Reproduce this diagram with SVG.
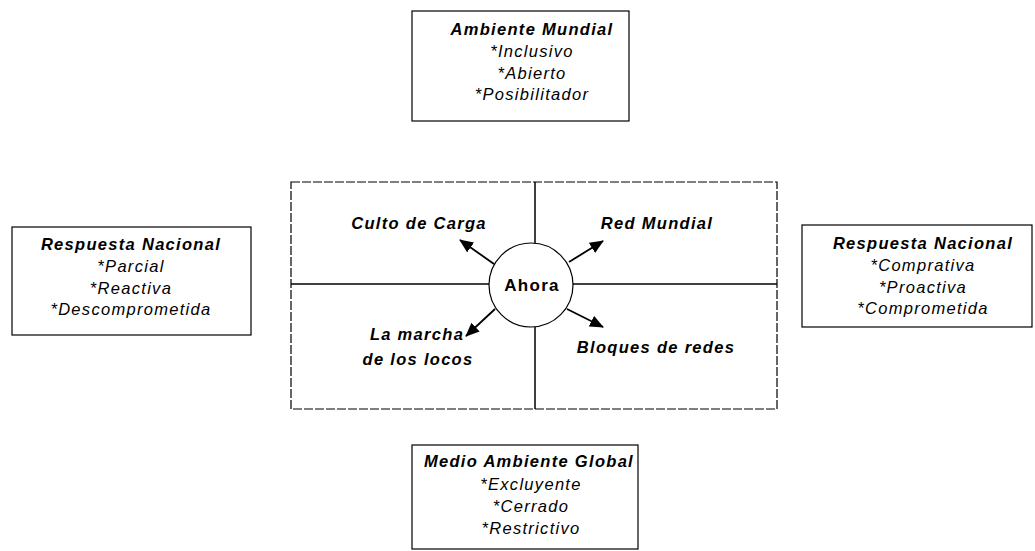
<svg xmlns="http://www.w3.org/2000/svg" width="1035" height="551" viewBox="0 0 1035 551">
<style>
.box{fill:none;stroke:#000;stroke-width:1.2}
.grid{fill:none;stroke:#000;stroke-width:1.2;stroke-dasharray:9 2}
.div{stroke:#000;stroke-width:1.5}
.conn{stroke:#000;stroke-width:1.8;fill:none}
text{font-family:"Liberation Sans",Arial,sans-serif;font-size:16.5px;letter-spacing:1.3px;text-anchor:middle;fill:#000}
.t{font-weight:bold;font-style:italic}
.i{font-style:italic}
.b{font-weight:bold;font-size:17px}
</style>
<defs>
<marker id="ah" viewBox="0 0 14 12" refX="13" refY="6" markerWidth="14" markerHeight="12" markerUnits="userSpaceOnUse" orient="auto">
<path d="M0,0 L14,6 L0,12 Z" fill="#000"/>
</marker>
</defs>
<rect width="1035" height="551" fill="#fff"/>

<g id="top">
<rect class="box" x="412" y="11" width="217" height="110"/>
<text class="t" x="532" y="35">Ambiente Mundial</text>
<text class="i" x="532" y="57">*Inclusivo</text>
<text class="i" x="532" y="79">*Abierto</text>
<text class="i" x="532" y="100">*Posibilitador</text>
</g>

<g id="left">
<rect class="box" x="12" y="227" width="239" height="108"/>
<text class="t" x="131" y="250">Respuesta Nacional</text>
<text class="i" x="131" y="272">*Parcial</text>
<text class="i" x="131" y="294">*Reactiva</text>
<text class="i" x="131" y="315">*Descomprometida</text>
</g>

<g id="right">
<rect class="box" x="802" y="225" width="230" height="102"/>
<text class="t" x="923" y="249">Respuesta Nacional</text>
<text class="i" x="923" y="271">*Comprativa</text>
<text class="i" x="923" y="293">*Proactiva</text>
<text class="i" x="923" y="314">*Comprometida</text>
</g>

<g id="bottom">
<rect class="box" x="412" y="445" width="226" height="104"/>
<text class="t" x="529" y="467">Medio Ambiente Global</text>
<text class="i" x="531" y="490">*Excluyente</text>
<text class="i" x="531" y="512">*Cerrado</text>
<text class="i" x="531" y="534">*Restrictivo</text>
</g>

<g id="matrix">
<rect class="grid" x="291" y="182" width="486" height="227"/>
<line class="div" x1="535" y1="182" x2="535" y2="243"/>
<line class="div" x1="535" y1="327" x2="535" y2="409"/>
<line class="div" x1="291" y1="284" x2="489" y2="284"/>
<line class="div" x1="573" y1="284" x2="777" y2="284"/>
<text class="t" x="419" y="229">Culto de Carga</text>
<text class="t" x="657" y="229">Red Mundial</text>
<text class="t" x="417" y="340">La marcha</text>
<text class="t" x="418" y="365">de los locos</text>
<text class="t" x="656" y="353">Bloques de redes</text>
</g>

<g id="ahora">
<circle cx="531" cy="285" r="42" fill="#fff" stroke="#000" stroke-width="1.2"/>
<text class="b" x="532" y="291">Ahora</text>
</g>

<g id="connectors">
<line class="conn" x1="494" y1="264" x2="460" y2="240" marker-end="url(#ah)"/>
<line class="conn" x1="569" y1="262" x2="603" y2="241" marker-end="url(#ah)"/>
<line class="conn" x1="495" y1="309" x2="466" y2="336" marker-end="url(#ah)"/>
<line class="conn" x1="567" y1="309" x2="603" y2="327" marker-end="url(#ah)"/>
</g>
</svg>
